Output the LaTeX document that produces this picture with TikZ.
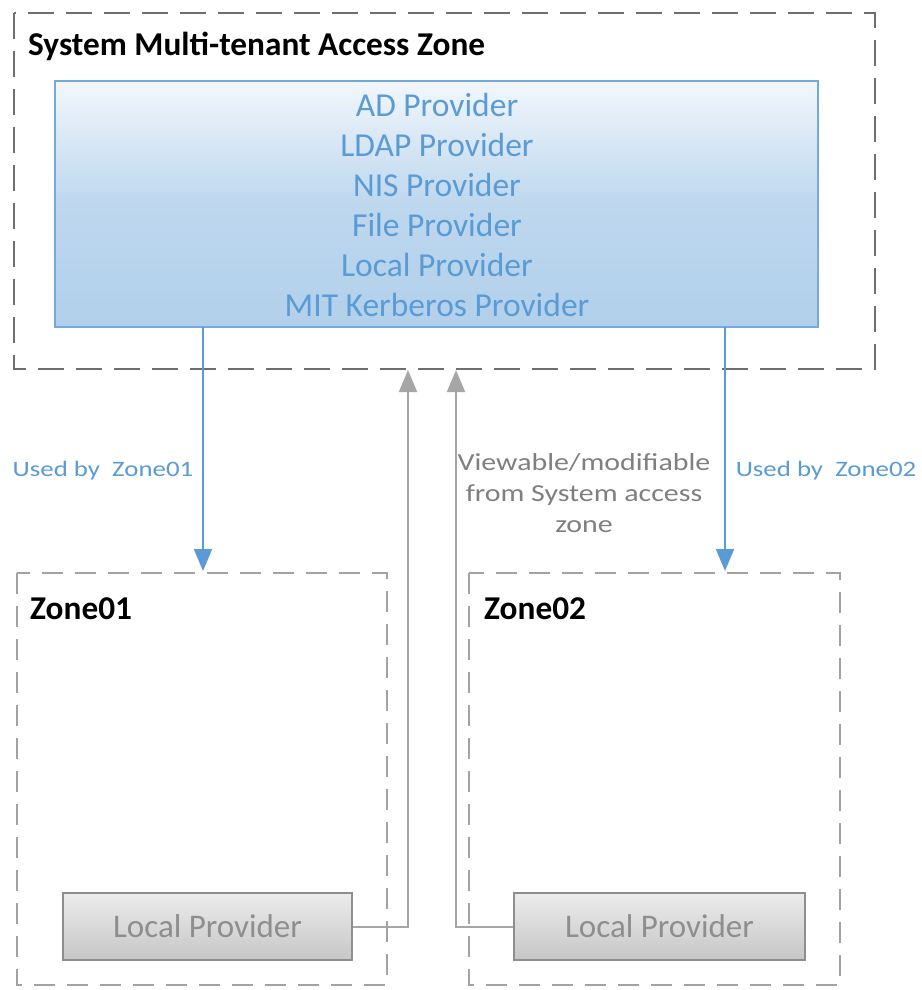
\documentclass[tikz,border=0pt]{standalone}
\usepackage{fontspec}
\setmainfont{Carlito}
\newfontfamily\notefont[FakeStretch=1.22]{Carlito}
\usetikzlibrary{arrows.meta}
\definecolor{outerdash}{HTML}{6E6E6E}
\definecolor{zonedash}{HTML}{A2A2A2}
\definecolor{provblue}{HTML}{5B9BD5}
\definecolor{provtop}{HTML}{F2F7FC}
\definecolor{provbot}{HTML}{B2D0EB}
\definecolor{lpborder}{HTML}{8E8E8E}
\definecolor{lptop}{HTML}{ECECEC}
\definecolor{lpbot}{HTML}{C6C6C6}
\definecolor{linkgray}{HTML}{A6A6A6}
\definecolor{notegray}{HTML}{7F7F7F}
\tikzset{
  outerzone/.style={draw=outerdash, line width=2.8pt, dash pattern=on 26pt off 12pt},
  zonebox/.style={draw=zonedash, line width=2.6pt, dash pattern=on 21pt off 12pt},
  provbox/.style={draw=provblue!85, line width=1.5pt, top color=provtop, bottom color=provbot, middle color=provbot!85!white},
  lpbox/.style={draw=lpborder, line width=1.5pt, top color=lptop, bottom color=lpbot},
  usearrow/.style={draw=provblue, line width=2pt, -{Triangle[length=22pt, width=18pt]}},
  viewarrow/.style={draw=linkgray, line width=2pt, -{Triangle[length=22pt, width=18pt]}},
  zonetitle/.style={anchor=west, font=\bfseries\fontsize{33.3}{38}\selectfont, text=black, inner sep=0pt},
  provtext/.style={text=provblue, font=\fontsize{33.5}{36}\selectfont, inner sep=0pt},
  labeltext/.style={font=\notefont\fontsize{22}{31}\selectfont, inner sep=0pt, align=center},
  notetext/.style={font=\notefont\fontsize{24.5}{31}\selectfont, inner sep=0pt, align=center}
}
\begin{document}
\begin{tikzpicture}[x=1pt, y=-1pt]
\useasboundingbox (0,0) rectangle (921,990);
\fill[white] (0,0) rectangle (921,990);

% System access zone and its providers
\draw[outerzone] (14,13) rectangle (875,369);
\node[zonetitle] (systitle) at (28,46) {System Multi-tenant Access Zone};
\path[provbox] (55,81) rectangle (818,327);
\coordinate (provS1) at (203,327);
\coordinate (provS2) at (725,327);
\node[provtext] (p1) at (437,105) {AD Provider};
\node[provtext] (p2) at (437,145) {LDAP Provider};
\node[provtext] (p3) at (437,185) {NIS Provider};
\node[provtext] (p4) at (437,225) {File Provider};
\node[provtext] (p5) at (437,265) {Local Provider};
\node[provtext] (p6) at (437,305) {MIT Kerberos Provider};

% Tenant zones
\draw[zonebox] (17,573) rectangle (387,985);
\node[zonetitle] (z1title) at (30,609) {Zone01};
\draw[zonebox] (469,573) rectangle (840,985);
\node[zonetitle] (z2title) at (484,609) {Zone02};
\coordinate (z1top) at (203,571);
\coordinate (z2top) at (725,571);

% Local providers inside the tenant zones
\node[lpbox, minimum width=289pt, minimum height=67pt, inner sep=0pt,
      text=lpborder, font=\fontsize{33}{36}\selectfont] (lp1) at (207.5,926.5) {Local Provider};
\node[lpbox, minimum width=291pt, minimum height=67pt, inner sep=0pt,
      text=lpborder, font=\fontsize{33}{36}\selectfont] (lp2) at (659.5,926.5) {Local Provider};

% Shared providers used by the tenant zones
\draw[usearrow] (provS1) -- (z1top);
\draw[usearrow] (provS2) -- (z2top);
\node[labeltext, text=provblue] (u1) at (103,471) {Used by\ \ Zone01};
\node[labeltext, text=provblue] (u2) at (826,471) {Used by\ \ Zone02};

% Local providers reachable from the System zone
\coordinate (sysB1) at (408,370);
\coordinate (sysB2) at (456,370);
\draw[viewarrow] (lp1.east) -| (sysB1);
\draw[viewarrow] (lp2.west) -| (sysB2);
\node[notetext, text=notegray] (note) at (584,493) {Viewable/modifiable\\from System access\\zone};
\end{tikzpicture}
\end{document}
